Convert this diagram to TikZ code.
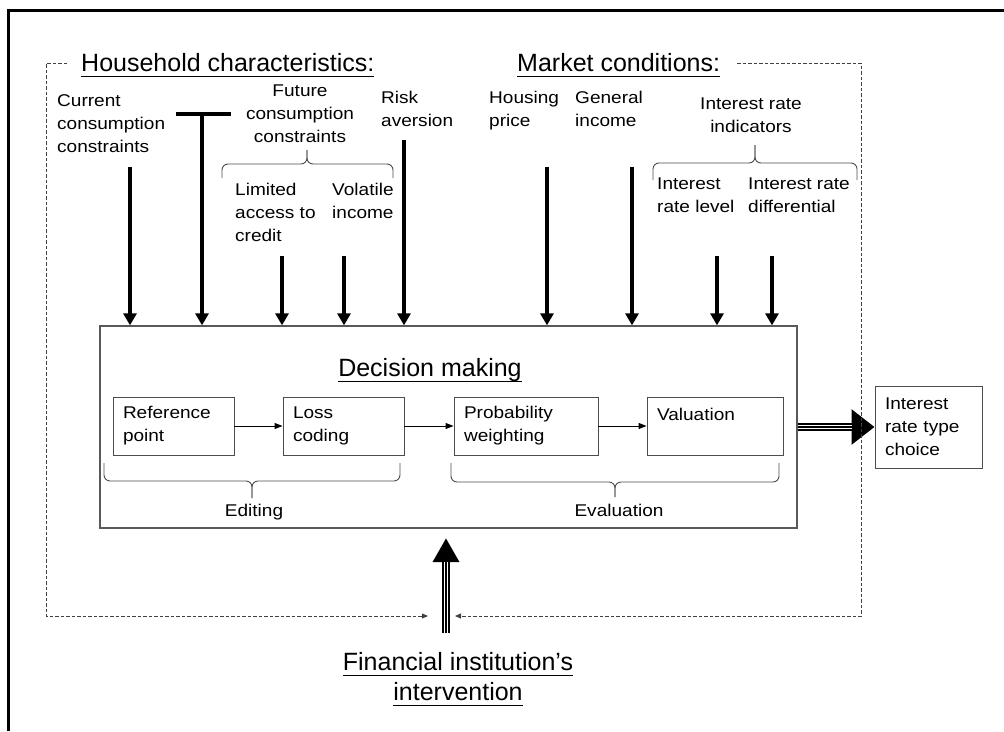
\documentclass[tikz,border=0pt]{standalone}
\usepackage{fontspec}
\setmainfont{Liberation Sans}
\newfontfamily\bodyfont[FakeStretch=1.12]{Liberation Sans}
\usetikzlibrary{arrows.meta}
% underline drawn through descenders, close to the baseline
\newcommand\hdline[1]{\setbox0=\hbox{#1}\rlap{\rule[-6pt]{\wd0}{1.4pt}}\box0}
\tikzset{
  body/.style={font=\bodyfont\fontsize{17}{23}\selectfont, inner sep=0pt},
  head/.style={font=\fontsize{25}{30}\selectfont, inner sep=0pt},
  stage/.style={draw=black!70, line width=0.9pt, font=\bodyfont\fontsize{17}{23}\selectfont,
    inner xsep=10pt, inner ysep=0pt, align=left, minimum height=58pt},
  feed/.style={line width=3.5pt, -{Triangle[width=13pt,length=12pt]}},
  flow/.style={line width=0.9pt, -{Triangle[width=6pt,length=8pt]}},
  bracket/.style={draw=black!70, line width=0.9pt, rounded corners=6pt},
  frame/.style={draw=black!75, line width=0.8pt, dash pattern=on 3.5pt off 2pt},
  framearrow/.style={frame, -{Triangle[width=5pt,length=6pt]}},
  bigflow/.style={line width=7.5pt,
    postaction={draw=white, line width=4.5pt, arrows=-, shorten >=#1},
    postaction={draw=black, line width=1.5pt, arrows=-, shorten >=#1}}
}
\begin{document}
\begin{tikzpicture}[x=1pt,y=-1pt]
\useasboundingbox (0,0) rectangle (1004,731);

% outer frame
\draw[line width=3pt] (8,731) -- (8,10) -- (1004,10);

% headings
\node[head, anchor=base west] (hh) at (81,71) {\hdline{Household characteristics:}};
\node[head, anchor=base west] (mkt) at (517,71) {\hdline{Market conditions:}};

% household factors
\node[body, align=left, anchor=north west] (cur) at (57,94) {Current\\consumption\\constraints};
\node[body, align=center, anchor=north] (fut) at (300,85) {Future\\consumption\\constraints};
\node[body, align=left, anchor=north west] (lim) at (235,183) {Limited\\access to\\credit};
\node[body, align=left, anchor=north west] (vol) at (332,183) {Volatile\\income};
\node[body, align=left, anchor=north west] (risk) at (381,91) {Risk\\aversion};

% market factors
\node[body, align=left, anchor=north west] (hous) at (489,91) {Housing\\price};
\node[body, align=left, anchor=north west] (gen) at (575,91) {General\\income};
\node[body, align=center, anchor=north] (iri) at (751,98) {Interest rate\\indicators};
\node[body, align=left, anchor=north west] (irl) at (657,178) {Interest\\rate level};
\node[body, align=left, anchor=north west] (ird) at (748,178) {Interest rate\\differential};

% grouping brackets
\draw[bracket] (222,178) -- (222,164) -- (307,164) -- (307,150);
\draw[bracket] (393,178) -- (393,164) -- (307,164) -- (307,150);
\draw[bracket] (653,180) -- (653,163) -- (755,163) -- (755,145);
\draw[bracket] (857,180) -- (857,163) -- (755,163) -- (755,145);

% decision making block
\node[draw=black!65, line width=1.3pt, minimum width=697pt, minimum height=202pt] (dm) at (448.5,427) {};
\node[head, anchor=base] (dmt) at (430,376) {\hdline{Decision making}};

\node[stage, text width=101pt] (ref) at (173.5,426) {Reference\\point};
\node[stage, text width=101pt] (loss) at (343.5,426) {Loss\\coding};
\node[stage, text width=124pt] (prob) at (526,426) {Probability\\weighting};
\node[stage, text width=116pt] (val) at (715,426) {Valuation\\~};

\draw[flow] (ref) -- (loss);
\draw[flow] (loss) -- (prob);
\draw[flow] (prob) -- (val);

\draw[bracket] (400,463) -- (400,481) -- (252,481) -- (252,498);
\draw[bracket] (104,463) -- (104,481) -- (252,481) -- (252,498);
\draw[bracket] (779,463) -- (779,482) -- (615,482) -- (615,497);
\draw[bracket] (451,463) -- (451,482) -- (615,482) -- (615,497);
\node[body, anchor=base] (edit) at (254,516) {Editing};
\node[body, anchor=base] (eval) at (619,516) {Evaluation};

% outcome
\node[stage, text width=87pt, minimum height=82pt] (choice) at (928.5,427) {Interest\\rate type\\choice};
\draw[bigflow=23pt, -{Triangle[width=34pt,length=23pt]}] (dm.east |- choice.west) -- (choice.west);

% factor arrows into decision making
\coordinate (aCur) at (130,167);
\coordinate (tbL) at (176,114);
\coordinate (tbR) at (231,114);
\coordinate (aFut) at (202,114);
\coordinate (aLim) at (282,256);
\coordinate (aVol) at (344,256);
\coordinate (aRisk) at (404,140);
\coordinate (aHous) at (547,167);
\coordinate (aGen) at (632,167);
\coordinate (aIrl) at (717,256);
\coordinate (aIrd) at (772,256);
\draw[line width=3.5pt] (tbL) -- (tbR);
\foreach \p in {aCur,aFut,aLim,aVol,aRisk,aHous,aGen,aIrl,aIrd}
  \draw[feed] (\p) -- (\p |- dm.north);

% financial institution
\node[head, align=center, anchor=north] (fin) at (458,652) {\hdline{Financial institution’s}\\\hdline{intervention}};
\coordinate (upStart) at (446,633);
\coordinate (upTip) at (446,538);
\draw[bigflow=24pt, -{Triangle[width=25pt,length=24pt]}] (upStart) -- (upTip);

% dashed influence frame
\coordinate (hhL) at (67,63);
\coordinate (fTL) at (46,63);
\coordinate (fBL) at (46,616);
\coordinate (inL) at (428,616);
\coordinate (mkR) at (737,63);
\coordinate (fTR) at (861,63);
\coordinate (fBR) at (861,616);
\coordinate (inR) at (455,616);
\draw[framearrow] (hhL) -- (fTL) -- (fBL) -- (inL);
\draw[framearrow] (mkR) -- (fTR) -- (fBR) -- (inR);
\end{tikzpicture}
\end{document}
